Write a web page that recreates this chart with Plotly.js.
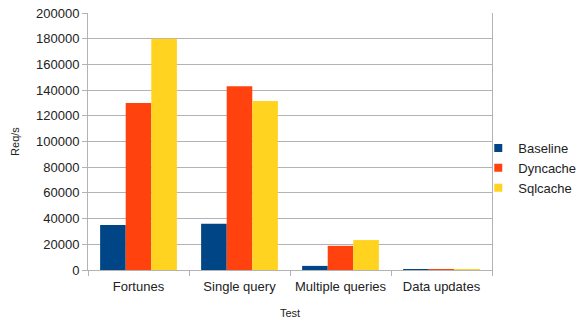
<!DOCTYPE html>
<html><head><meta charset="utf-8">
<script src="https://cdn.plot.ly/plotly-3.0.1.min.js"></script>
<style>body{margin:0;padding:0;background:#fff}#c{width:579px;height:319px}</style>
</head><body><div id="c"></div>
<script>
const categories = ["Fortunes", "Single query", "Multiple queries", "Data updates"];
const baseline = [35000, 36000, 3200, 800];
const dyncache = [130000, 143000, 18800, 800];
const sqlcache = [180000, 131500, 23300, 800];
const seriesNames = ["Baseline", "Dyncache", "Sqlcache"];
const colors = ["#004586", "#ff420e", "#ffd320"];
const yTicks = [0, 20000, 40000, 60000, 80000, 100000, 120000, 140000, 160000, 180000, 200000];

const data = [baseline, dyncache, sqlcache].map((v, i) => ({
  type: 'bar', x: categories, y: v, name: seriesNames[i], showlegend: false,
  marker: {color: colors[i], line: {width: 0}}
}));
// legend swatches (small squares like the original)
seriesNames.forEach((n, i) => data.push({
  type: 'scatter', mode: 'markers', x: [null], y: [null], name: n,
  marker: {symbol: 'square', size: 8, color: colors[i]}, showlegend: true
}));
const font = {family: 'Liberation Sans, Arial, sans-serif', size: 13, color: '#222'};
const layout = {
  width: 579, height: 319,
  margin: {l: 88, r: 87, t: 13, b: 49, autoexpand: false},
  paper_bgcolor: '#fff', plot_bgcolor: '#fff',
  font: font,
  barmode: 'group', bargap: 0.24, bargroupgap: 0,
  showlegend: true,
  legend: {x: 0.966, y: 0.397, yanchor: 'middle', xanchor: 'left', font: {size: 13, color: '#222'},
           itemwidth: 30, tracegroupgap: 0, bgcolor: 'rgba(0,0,0,0)'},
  xaxis: {
    title: {text: 'Test', font: {size: 11}, standoff: 16},
    showline: true, linecolor: '#b3b3b3', linewidth: 1,
    ticks: 'outside', tickson: 'boundaries', ticklen: 5, tickcolor: '#b3b3b3',
    ticklabelstandoff: 4,
    showgrid: false, fixedrange: true
  },
  yaxis: {
    title: {text: 'Req/s', font: {size: 11}, standoff: 14},
    range: [0, 200000], tickvals: yTicks, ticktext: yTicks.map(String),
    showline: true, mirror: true, linecolor: '#b3b3b3', linewidth: 1,
    ticks: 'outside', ticklen: 5, tickcolor: '#b3b3b3',
    showgrid: true, gridcolor: '#b3b3b3', gridwidth: 1, zeroline: false, fixedrange: true
  }
};
Plotly.newPlot('c', data, layout, {displayModeBar: false, staticPlot: true});
</script></body></html>
